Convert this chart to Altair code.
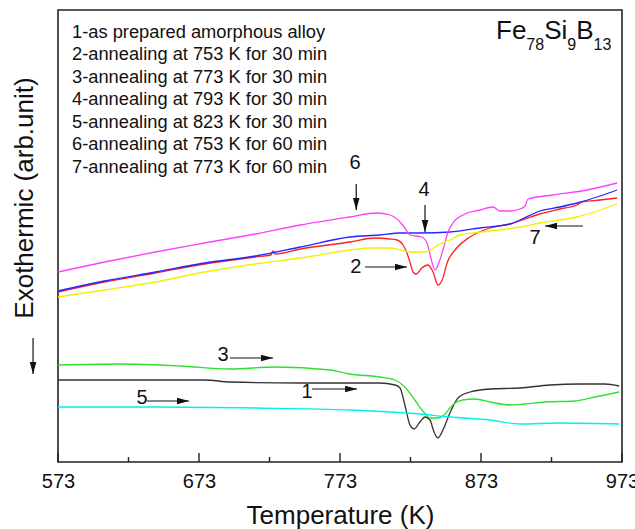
import altair as alt
import pandas as pd

FONT = "Liberation Sans, Arial, sans-serif"

# ---------------- data (temperature K, exothermic signal in arb. units) ----------------
t1 = [573, 642, 677, 695, 745, 801, 812, 815.6, 819, 822.6, 825.5, 829.7, 833.3, 836.8, 839.7,
      842.5, 846, 851, 856.7, 865.2, 879.4, 900.7, 921.9, 943.2, 960.9, 971]
y1 = [82, 82, 82, 80, 79, 79, 77, 74, 57, 37, 33, 40, 45, 42, 30,
      24, 32, 49, 64, 70, 73, 74, 77, 78, 78, 76]

t2 = [573, 606, 642, 677, 713, 724, 725.5, 727, 745, 780, 798, 808, 813.4, 817.7, 820.5, 822.6,
      824.8, 826.9, 831, 835.4, 839, 842.5, 846, 848.9, 854.6, 865.2, 879.4, 893.6, 914.8, 929,
      941, 944.5, 957.4, 969.5]
y2 = [170, 180, 189, 198, 205, 207, 211, 208, 213, 220, 224, 223, 222, 217, 209, 200,
      190, 188, 194, 197, 190, 177, 184, 199, 212, 225, 234, 238, 248, 253,
      257, 260, 262, 264]

t3 = [573, 617, 660, 695, 727, 766, 780, 801, 812, 819, 826, 833, 837, 842, 847.5, 851, 854.6,
      860, 868.7, 879.4, 893.6, 904, 918.4, 939.7, 954, 971]
y3 = [97, 98, 96, 93, 95, 92, 88, 85, 82, 75, 62, 49, 44, 44, 48, 54, 59,
      62, 63, 60, 57, 58, 60, 61, 65, 70]

t4 = [573, 606, 642, 677, 713, 745, 780, 801, 815.6, 829.7, 851, 872.3, 893.6, 900.7, 914.8,
      929, 941, 957.4, 969.5]
y4 = [171, 181, 190, 199, 206, 215, 225, 227, 229, 229, 230, 234, 238, 242, 251,
      255, 259, 266, 272]

t5 = [573, 642, 713, 780, 829.7, 851, 879.4, 900.7, 929, 971]
y5 = [55, 55, 54, 52, 48, 45, 42, 38, 39, 38]

t6 = [573, 606, 642, 677, 713, 745, 780, 799, 808.5, 815.6, 819, 822.6, 831, 834.7, 838.2,
      840.4, 842.5, 846, 849.6, 853.1, 861.7, 872.3, 881.5, 886.5, 893.6, 900.7, 904.2, 906.3,
      924, 948.2, 969.5]
y6 = [190, 200, 210, 219, 228, 237, 245, 249, 247, 240, 234, 227, 225, 219, 200,
      192, 197, 212, 230, 239, 248, 252, 255, 251, 251, 253, 256, 263,
      267, 272, 279]

t7 = [573, 606, 642, 677, 713, 745, 780, 794, 808.5, 822.6, 833.3, 843.9, 851, 858.1, 879.4,
      900.7, 914.8, 941, 969.5]
y7 = [165, 172, 180, 190, 198, 204, 212, 214, 214, 210, 210, 218, 222, 227, 231,
      235, 239, 245, 258]

series_t = [t1, t2, t3, t4, t5, t6, t7]
series_y = [y1, y2, y3, y4, y5, y6, y7]
series_colors = ["#333333", "#ff2020", "#2fe02f", "#2626ff", "#00f0f0", "#ff40ff", "#f0f000"]

legend_lines = [
    "1-as prepared amorphous alloy",
    "2-annealing at 753 K for 30 min",
    "3-annealing at 773 K for 30 min",
    "4-annealing at 793 K for 30 min",
    "5-annealing at 823 K for 30 min",
    "6-annealing at 753 K for 60 min",
    "7-annealing at 773 K for 60 min",
]

tick_labels = [573, 673, 773, 873, 973]
tick_minor = [623, 723, 823, 923]

label_text = ["1", "2", "3", "4", "5", "6", "7"]
label_t = [749.6, 784.3, 690, 832.6, 632.6, 783.6, 911.3]
label_y = [70, 195, 107, 272, 64, 299, 224]

arrow_t0 = [753.1, 790.7, 695, 833.3, 636.1, 784.5, 945.3, 555.3]
arrow_y0 = [73, 195, 104, 257, 61, 278, 236, 124]
arrow_t1 = [785.1, 820.5, 725.5, 833.3, 665.9, 784.5, 918.4, 555.3]
arrow_y1 = [73, 195, 104, 230, 61, 252, 236, 88]
arrow_angle = [0, 0, 0, 90, 0, 90, 180, 90]

# ---------------- chart ----------------
xscale = alt.Scale(domain=[573, 973], nice=False, zero=False)
yscale = alt.Scale(domain=[0, 452], nice=False, zero=False)
xaxis = alt.Axis(values=tick_labels, ticks=False, domain=False, grid=False, labelFlush=False,
                 labelFontSize=20, labelPadding=9, labelColor="#111", format="d",
                 title="Temperature (K)", titleFontSize=26, titleFontWeight="normal",
                 titlePadding=11, titleColor="#111")


def X(field):
    return alt.X(field, type="quantitative", scale=xscale, axis=xaxis)


def Y(field):
    return alt.Y(field, type="quantitative", scale=yscale, axis=None)


layers = []

# tick marks (pointing inward)
major_df = pd.DataFrame({"T": tick_labels})
minor_df = pd.DataFrame({"T": tick_minor})
layers.append(alt.Chart(major_df).mark_rule(color="#222", strokeWidth=1.4).encode(
    x=X("T"), y=alt.value(452), y2=alt.value(443)))
layers.append(alt.Chart(minor_df).mark_rule(color="#222", strokeWidth=1.4).encode(
    x=X("T"), y=alt.value(452), y2=alt.value(447)))

for t, y, c in zip(series_t, series_y, series_colors):
    df = pd.DataFrame({"T": t, "v": y})
    layers.append(alt.Chart(df).mark_line(color=c, strokeWidth=1.3, interpolate="monotone").encode(
        x=X("T"), y=Y("v")))

arr_df = pd.DataFrame({"T": arrow_t0, "v": arrow_y0, "T2": arrow_t1, "v2": arrow_y1,
                       "ang": arrow_angle})
layers.append(alt.Chart(arr_df).mark_rule(color="#111", strokeWidth=1.2).encode(
    x=X("T"), x2="T2", y=Y("v"), y2="v2"))
layers.append(alt.Chart(arr_df).mark_point(shape="M0,0L-2,-0.55L-2,0.55Z", filled=True,
                                           size=144, color="#111", opacity=1).encode(
    x=X("T2"), y=Y("v2"), angle=alt.Angle("ang:Q", scale=None)))

lab_df = pd.DataFrame({"T": label_t, "v": label_y, "txt": label_text})
layers.append(alt.Chart(lab_df).mark_text(font=FONT, fontSize=20, color="#111",
                                          align="center", baseline="middle").encode(
    x=X("T"), y=Y("v"), text="txt:N"))

one = pd.DataFrame({"k": [0]})

# legend block (text inside plot)
layers.append(alt.Chart(one).mark_text(text=legend_lines, font=FONT, fontSize=18.3, color="#111",
                                       align="left", baseline="alphabetic",
                                       lineHeight=22.5).encode(
    x=alt.value(14), y=alt.value(27.5)))

# composition label Fe78Si9B13
formula_parts = ["Fe", "78", "Si", "9", "B", "13"]
formula_sub = [False, True, False, True, False, True]
glyph_w = {"F": 0.611, "e": 0.556, "S": 0.667, "i": 0.222, "B": 0.667}
fx = 438.0
for part, sub in zip(formula_parts, formula_sub):
    fs = 16 if sub else 26
    layers.append(alt.Chart(one).mark_text(text=part, font=FONT, fontSize=fs, color="#111",
                                           align="left", baseline="alphabetic").encode(
        x=alt.value(fx), y=alt.value(40 if sub else 29)))
    fx += sum(0.556 if ch.isdigit() else glyph_w[ch] for ch in part) * fs

# y axis title
layers.append(alt.Chart(one).mark_text(text="Exothermic (arb.unit)", font=FONT, fontSize=26,
                                       color="#111", angle=270, align="center",
                                       baseline="middle").encode(
    x=alt.value(-33), y=alt.value(188)))

chart = alt.layer(*layers).properties(
    width=564, height=452, autosize="none",
    padding={"left": 58, "top": 10, "right": 13, "bottom": 67},
    background="white",
).configure_view(stroke="#222", strokeWidth=1.6).configure_axis(
    labelFont=FONT, titleFont=FONT)

chart.save("out.html", embed_options={"renderer": "svg", "actions": False})
